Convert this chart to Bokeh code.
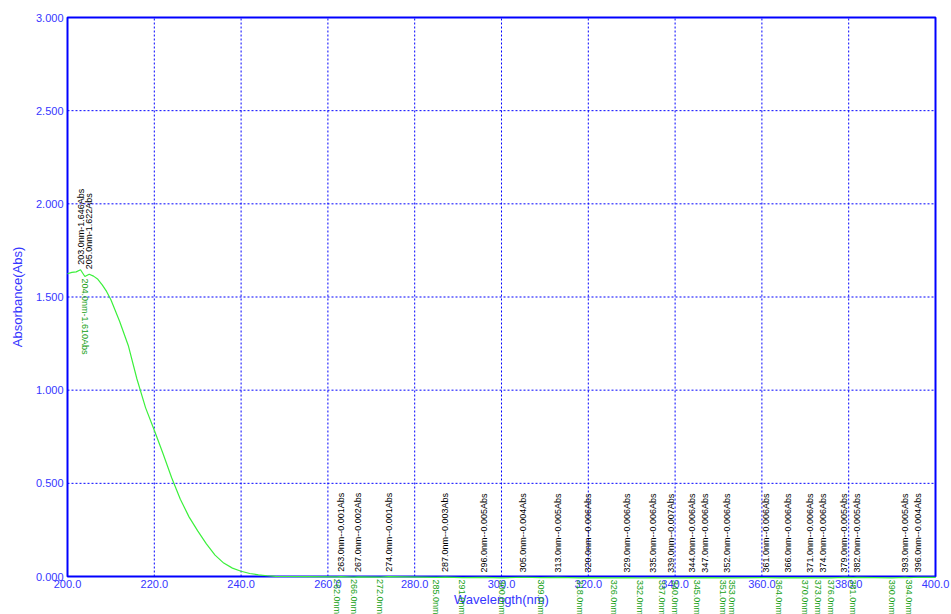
from bokeh.plotting import figure
from bokeh.models import ColumnDataSource, LabelSet, FixedTicker, NumeralTickFormatter, Range1d
from bokeh.core.properties import value
from bokeh.embed import file_html
from bokeh.resources import INLINE

# Absorbance spectrum (nm, Abs)
wavelength = [200, 201, 202, 203, 204, 205, 206, 207, 208, 209, 210, 212, 214, 216, 218,
              220, 222, 224, 226, 228, 230, 232, 234, 236, 238, 240, 242, 244, 246, 248,
              250, 255, 262, 263, 266, 267, 272, 274, 285, 287, 291, 296, 300, 305, 309,
              313, 318, 320, 326, 329, 332, 335, 337, 339, 340, 344, 345, 347, 351, 352,
              353, 361, 364, 366, 370, 371, 373, 374, 376, 379, 381, 382, 390, 393, 394,
              396, 400]
absorbance = [1.625, 1.632, 1.635, 1.646, 1.610, 1.622, 1.612, 1.595, 1.565, 1.530, 1.485,
              1.370, 1.240, 1.060, 0.905, 0.785, 0.660, 0.530, 0.415, 0.320, 0.245, 0.175,
              0.115, 0.072, 0.045, 0.028, 0.016, 0.009, 0.004, 0.001, 0.000, -0.001,
              -0.002, -0.001, -0.003, -0.002, -0.003, -0.001, -0.005, -0.003, -0.006,
              -0.005, -0.007, -0.004, -0.006, -0.005, -0.007, -0.006, -0.007, -0.006,
              -0.008, -0.006, -0.008, -0.007, -0.008, -0.006, -0.007, -0.006, -0.007,
              -0.006, -0.007, -0.006, -0.007, -0.006, -0.007, -0.006, -0.007, -0.006,
              -0.007, -0.005, -0.006, -0.005, -0.007, -0.005, -0.006, -0.004, -0.005]

# Picked peaks
peak_nm = [203, 205, 263, 267, 274, 287, 296, 305, 313, 320, 329, 335, 339, 344, 347,
           352, 361, 366, 371, 374, 379, 382, 393, 396]
peak_abs = [1.646, 1.622, -0.001, -0.002, -0.001, -0.003, -0.005, -0.004, -0.005, -0.006,
            -0.006, -0.006, -0.007, -0.006, -0.006, -0.006, -0.006, -0.006, -0.006, -0.006,
            -0.005, -0.005, -0.005, -0.004]

# Picked valleys
valley_nm = [204, 262, 266, 272, 285, 291, 300, 309, 318, 326, 332, 337, 340, 345, 351,
             353, 364, 370, 373, 376, 381, 390, 394]
valley_abs = [1.610, -0.002, -0.003, -0.003, -0.005, -0.006, -0.007, -0.006, -0.007,
              -0.007, -0.008, -0.008, -0.008, -0.007, -0.007, -0.007, -0.007, -0.007,
              -0.007, -0.007, -0.006, -0.007, -0.006]

x_ticks = [200, 220, 240, 260, 280, 300, 320, 340, 360, 380, 400]
y_ticks = [0.0, 0.5, 1.0, 1.5, 2.0, 2.5, 3.0]

BLUE = "#0000ff"
LABEL_BLUE = "#3636ff"
VALLEY_GREEN = "#13a013"
FONT = "Liberation Sans"

W, H = 951, 614
# pixel edges of the plotting box inside the page
BOX_L, BOX_R, BOX_T, BOX_B = 67, 935, 17, 576

x_lo, x_hi = x_ticks[0], x_ticks[-1]
y_lo, y_hi = y_ticks[0], y_ticks[-1]
nm_per_px = (x_hi - x_lo) / (BOX_R - BOX_L)
abs_per_px = (y_hi - y_lo) / (BOX_B - BOX_T)

# The frame covers the whole page; both axes are pinned to the box edges so
# that tick labels and the hanging valley labels can share the margins.
p = figure(width=W, height=H, output_backend="svg", toolbar_location=None,
           x_range=Range1d(x_lo - BOX_L * nm_per_px, x_hi + (W - BOX_R) * nm_per_px),
           y_range=Range1d(y_lo - (H - BOX_B) * abs_per_px, y_hi + BOX_T * abs_per_px),
           min_border=0,
           x_axis_label="Wavelength(nm)", y_axis_label="Absorbance(Abs)")

p.background_fill_color = "white"
p.border_fill_color = "white"
p.outline_line_color = None
p.xgrid.visible = False
p.ygrid.visible = False

p.xaxis.fixed_location = y_lo
p.yaxis.fixed_location = x_lo
p.xaxis.bounds = (x_lo, x_hi)
p.yaxis.bounds = (y_lo, y_hi)

for ax, ticks, fmt in ((p.xaxis[0], x_ticks, "0.0"), (p.yaxis[0], y_ticks, "0.000")):
    ax.ticker = FixedTicker(ticks=ticks)
    ax.formatter = NumeralTickFormatter(format=fmt)
    ax.axis_line_color = None
    ax.major_tick_line_color = None
    ax.minor_tick_line_color = None
    ax.major_tick_out = 0
    ax.major_tick_in = 0
    ax.major_label_text_color = LABEL_BLUE
    ax.major_label_text_font_size = "11px"
    ax.major_label_text_font = FONT
    ax.axis_label_text_color = LABEL_BLUE
    ax.axis_label_text_font_size = "13px"
    ax.axis_label_text_font_style = "normal"
    ax.axis_label_text_font = FONT

p.xaxis[0].major_label_standoff = 3
p.xaxis[0].axis_label_standoff = 1
p.yaxis[0].major_label_standoff = 4
p.yaxis[0].axis_label_standoff = 8

# Dashed grid inside the plotting box
p.segment(x0=x_ticks[1:-1], y0=y_lo, x1=x_ticks[1:-1], y1=y_hi,
          line_color=BLUE, line_width=1, line_dash="2 2")
p.segment(x0=x_lo, y0=y_ticks[1:-1], x1=x_hi, y1=y_ticks[1:-1],
          line_color=BLUE, line_width=1, line_dash="2 2")

# Plotting box border
p.quad(left=[x_lo], right=[x_hi], bottom=[y_lo], top=[y_hi],
       fill_color=None, line_color=BLUE, line_width=2)

spec = ColumnDataSource(data=dict(x=wavelength, y=absorbance))
p.line("x", "y", source=spec, line_color="#3cf03c", line_width=1.2)

# Peak labels read upward from each peak
peak_src = ColumnDataSource(data=dict(
    x=peak_nm, y=peak_abs,
    text=[f"{w:.1f}nm-{a:.3f}Abs" for w, a in zip(peak_nm, peak_abs)]))
p.add_layout(LabelSet(x="x", y="y", text="text", source=peak_src, angle=90, angle_units="deg",
                      text_align="left", text_baseline="middle", y_offset=5,
                      text_font=value(FONT), text_font_size="9px", text_color="black"))

# Valley labels read downward; the baseline ones hang below the zero line
valley_text = [f"{valley_nm[0]:.1f}nm-{valley_abs[0]:.3f}Abs"] + \
              [f"{w:.1f}nm" for w in valley_nm[1:]]
valley_src = ColumnDataSource(data=dict(x=valley_nm, y=valley_abs, text=valley_text))
p.add_layout(LabelSet(x="x", y="y", text="text", source=valley_src, angle=-90, angle_units="deg",
                      text_align="left", text_baseline="middle", y_offset=-2,
                      text_font=value(FONT), text_font_size="9px", text_color=VALLEY_GREEN))

open("out.html", "w").write(file_html(p, INLINE))
